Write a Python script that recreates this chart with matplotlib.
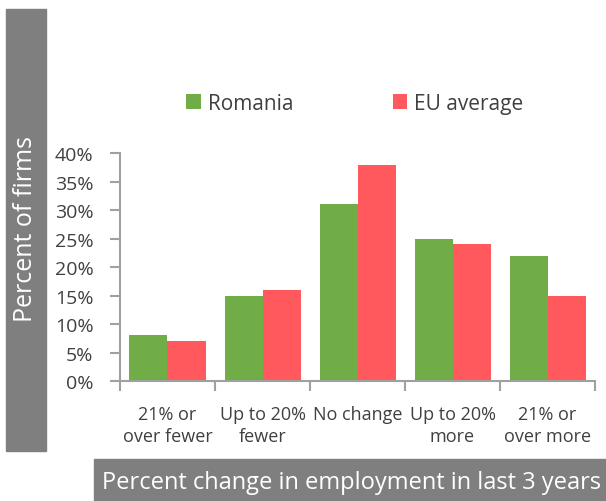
import matplotlib.pyplot as plt
from matplotlib.patches import Rectangle
from matplotlib.ticker import PercentFormatter
import numpy as np

categories = ["21% or\nover fewer", "Up to 20%\nfewer", "No change", "Up to 20%\nmore", "21% or\nover more"]
romania = [0.08, 0.15, 0.31, 0.25, 0.22]
eu_average = [0.07, 0.16, 0.38, 0.24, 0.15]
series_names = ["Romania", "EU average"]

GREEN = "#70AD47"
RED = "#FF595E"
GRAY_BOX = "#7F7F7F"
AXIS_GRAY = "#A0A0A0"
TEXT = "#404040"

plt.rcParams["font.family"] = ["Open Sans", "DejaVu Sans"]

fig = plt.figure(figsize=(6.06, 5.02), dpi=100)
ax = fig.add_axes([0.198, 0.239, 0.784, 0.454])

x = np.arange(len(categories))
w = 0.4
ax.bar(x - w / 2, romania, w, color=GREEN, label=series_names[0])
ax.bar(x + w / 2, eu_average, w, color=RED, label=series_names[1])

ax.set_xlim(-0.5, len(categories) - 0.5)
ax.set_ylim(0, 0.4)
ax.set_yticks(np.arange(0, 0.41, 0.05))
ax.yaxis.set_major_formatter(PercentFormatter(1.0, decimals=0))

ax.set_xticks(x)
ax.set_xticklabels(categories, linespacing=1.3)
ax.set_xticks(np.arange(-0.5, len(categories)), minor=True)
ax.tick_params(axis="x", which="major", length=0, pad=17, labelsize=13, labelcolor=TEXT)
ax.tick_params(axis="x", which="minor", length=7, width=1.5, color=AXIS_GRAY)
ax.tick_params(axis="y", length=7, width=1.5, color=AXIS_GRAY, labelsize=14, labelcolor=TEXT, pad=12)

for side in ["top", "right"]:
    ax.spines[side].set_visible(False)
for side in ["left", "bottom"]:
    ax.spines[side].set_color(AXIS_GRAY)
    ax.spines[side].set_linewidth(1.5)

# legend
ax.legend(loc="lower left", bbox_to_anchor=(0.10, 1.09), ncol=2, frameon=False,
          fontsize=15, handlelength=0.7, handleheight=0.7, handletextpad=0.35,
          columnspacing=4.75, labelcolor=TEXT)

# gray title boxes
fig.patches.append(Rectangle((6 / 606, 1 - 452 / 502), 40 / 606, 442 / 502,
                             transform=fig.transFigure, color=GRAY_BOX, zorder=0))
fig.text(26 / 606, 1 - 229 / 502, "Percent of firms", rotation=90, color="white",
         fontsize=18, ha="center", va="center")

fig.patches.append(Rectangle((94 / 606, 0), 512 / 606, 42 / 502,
                             transform=fig.transFigure, color=GRAY_BOX, zorder=0))
fig.text(352 / 606, 1 - 483 / 502, "Percent change in employment in last 3 years",
         color="white", fontsize=17, ha="center", va="center")

fig.savefig("out.png", dpi=100)
